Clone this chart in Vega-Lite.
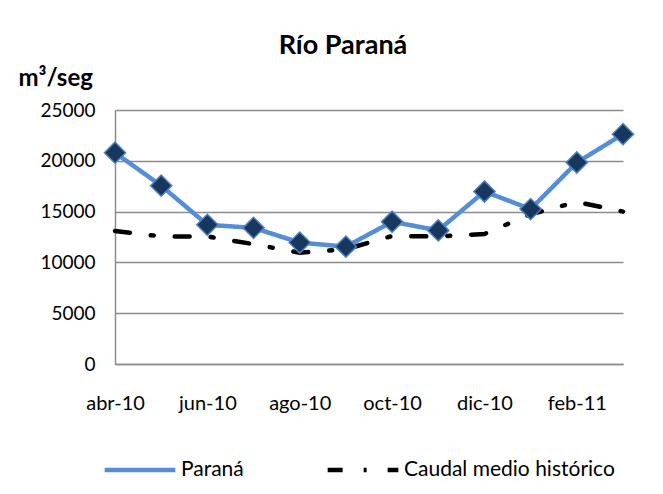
{
  "$schema": "https://vega.github.io/schema/vega-lite/v6.json",
  "autosize": {"type": "none"},
  "width": 508,
  "height": 254,
  "padding": {"left": 115, "top": 110, "right": 40, "bottom": 130},
  "background": "white",
  "title": {
    "text": "Río Paraná",
    "font": "Lato",
    "fontSize": 27,
    "fontWeight": "bold",
    "color": "#000000",
    "anchor": "middle",
    "dx": -26,
    "offset": 6
  },
  "config": {
    "view": {"stroke": null},
    "font": "Lato",
    "axis": {
      "labelFont": "Lato",
      "labelColor": "#000000",
      "domainColor": "#8c8c8c",
      "domainWidth": 1.5,
      "gridColor": "#8c8c8c",
      "gridWidth": 1.5,
      "ticks": false
    }
  },
  "data": {
    "values": [
      {"mes": "abr-10", "serie": "Paraná", "valor": 20800},
      {"mes": "may-10", "serie": "Paraná", "valor": 17550},
      {"mes": "jun-10", "serie": "Paraná", "valor": 13700},
      {"mes": "jul-10", "serie": "Paraná", "valor": 13400},
      {"mes": "ago-10", "serie": "Paraná", "valor": 11950},
      {"mes": "sep-10", "serie": "Paraná", "valor": 11550},
      {"mes": "oct-10", "serie": "Paraná", "valor": 14000},
      {"mes": "nov-10", "serie": "Paraná", "valor": 13150},
      {"mes": "dic-10", "serie": "Paraná", "valor": 16980},
      {"mes": "ene-11", "serie": "Paraná", "valor": 15250},
      {"mes": "feb-11", "serie": "Paraná", "valor": 19830},
      {"mes": "mar-11", "serie": "Paraná", "valor": 22620},
      {"mes": "abr-10", "serie": "Caudal medio histórico", "valor": 13100},
      {"mes": "may-10", "serie": "Caudal medio histórico", "valor": 12550},
      {"mes": "jun-10", "serie": "Caudal medio histórico", "valor": 12550},
      {"mes": "jul-10", "serie": "Caudal medio histórico", "valor": 11800},
      {"mes": "ago-10", "serie": "Caudal medio histórico", "valor": 10950},
      {"mes": "sep-10", "serie": "Caudal medio histórico", "valor": 11300},
      {"mes": "oct-10", "serie": "Caudal medio histórico", "valor": 12600},
      {"mes": "nov-10", "serie": "Caudal medio histórico", "valor": 12550},
      {"mes": "dic-10", "serie": "Caudal medio histórico", "valor": 12800},
      {"mes": "ene-11", "serie": "Caudal medio histórico", "valor": 14750},
      {"mes": "feb-11", "serie": "Caudal medio histórico", "valor": 15950},
      {"mes": "mar-11", "serie": "Caudal medio histórico", "valor": 15000}
    ]
  },
  "encoding": {
    "x": {
      "field": "mes",
      "type": "ordinal",
      "scale": {
        "type": "point",
        "padding": 0,
        "domain": ["abr-10", "may-10", "jun-10", "jul-10", "ago-10", "sep-10", "oct-10", "nov-10", "dic-10", "ene-11", "feb-11", "mar-11"]
      },
      "axis": {
        "title": null,
        "grid": false,
        "labelAngle": 0,
        "labelFontSize": 20,
        "labelPadding": 29,
        "values": ["abr-10", "jun-10", "ago-10", "oct-10", "dic-10", "feb-11"]
      }
    },
    "y": {
      "field": "valor",
      "type": "quantitative",
      "scale": {"domain": [0, 25000], "nice": false},
      "axis": {
        "values": [0, 5000, 10000, 15000, 20000, 25000],
        "format": "d",
        "labelFontSize": 19,
        "labelPadding": 20,
        "title": "m³/seg",
        "titleFont": "Lato",
        "titleFontSize": 24,
        "titleFontWeight": "bold",
        "titleColor": "#000000",
        "titleAngle": 0,
        "titleAlign": "left",
        "titleBaseline": "alphabetic",
        "titleX": -97,
        "titleY": -25
      }
    }
  },
  "layer": [
    {
      "mark": {"type": "line", "strokeWidth": 4.5, "strokeCap": "round"},
      "encoding": {
        "color": {
          "field": "serie",
          "type": "nominal",
          "scale": {"domain": ["Paraná", "Caudal medio histórico"], "range": ["#558ED5", "#000000"]},
          "legend": {
            "title": null,
            "orient": "none",
            "direction": "horizontal",
            "legendX": -13,
            "legendY": 322,
            "symbolType": "stroke",
            "symbolSize": 5000,
            "symbolStrokeWidth": 4.5,
            "labelFontSize": 21,
            "labelFont": "Lato",
            "labelColor": "#000000",
            "labelOffset": 3,
            "labelLimit": 400,
            "columnPadding": 74
          }
        },
        "strokeDash": {
          "field": "serie",
          "type": "nominal",
          "scale": {"domain": ["Paraná", "Caudal medio histórico"], "range": [[1, 0], [15, 21, 3, 21]]},
          "legend": {
            "title": null,
            "orient": "none",
            "direction": "horizontal",
            "legendX": -13,
            "legendY": 322,
            "symbolType": "stroke",
            "symbolSize": 5000,
            "symbolStrokeWidth": 4.5,
            "labelFontSize": 21,
            "labelFont": "Lato",
            "labelColor": "#000000",
            "labelOffset": 3,
            "labelLimit": 400,
            "columnPadding": 74
          }
        }
      }
    },
    {
      "transform": [{"filter": "datum.serie === 'Paraná'"}],
      "mark": {"type": "point", "shape": "diamond", "filled": true, "fill": "#17375E", "stroke": "#4F81BD", "strokeWidth": 1.5, "size": 450, "opacity": 1}
    }
  ]
}
